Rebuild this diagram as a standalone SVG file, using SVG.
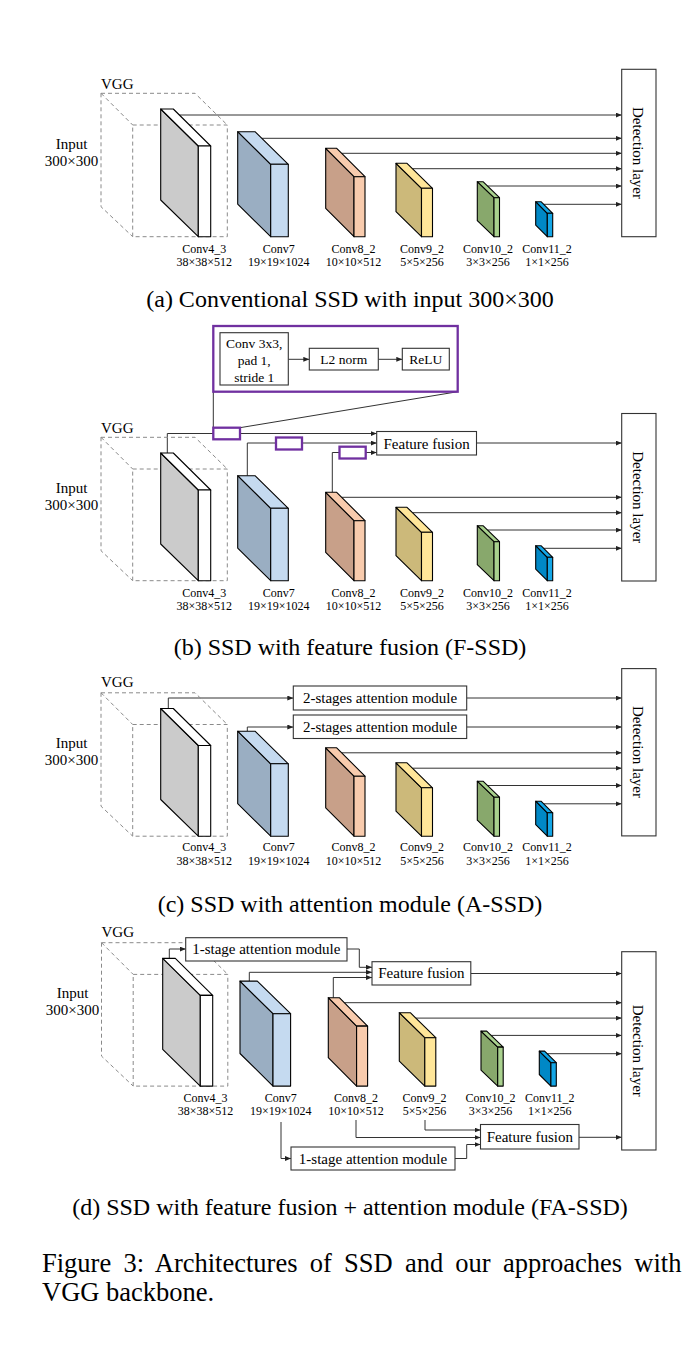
<svg xmlns="http://www.w3.org/2000/svg" width="696" height="1348" viewBox="0 0 696 1348">
<style>
.t{font-family:"Liberation Serif","Times New Roman",serif;fill:#000}
.lbl{font-size:12px;text-anchor:middle}
.inp{font-size:15px;text-anchor:middle}
.vgg{font-size:15px}
.bt{font-size:15px;text-anchor:middle}
.it{font-size:13.5px;text-anchor:middle}
.cap{font-size:24px;text-anchor:middle}
.fig{font-size:26.5px}
.dash{fill:none;stroke:#8a8a8a;stroke-width:1;stroke-dasharray:4 3}
.blk polygon{stroke:#000;stroke-width:1.1;stroke-linejoin:round}
.conn path{fill:none;stroke:#333;stroke-width:1}
.arr{marker-end:url(#ah)}
.box{fill:#fff;stroke:#333;stroke-width:1.1}
.pbox{fill:#fff;stroke:#7030a0;stroke-width:2.3}
.pframe{fill:none;stroke:#7030a0;stroke-width:2.3}
.pline{fill:none;stroke:#7030a0;stroke-width:1.4}
</style>
<defs>
<marker id="ah" viewBox="0 0 6 5" refX="6" refY="2.5" markerWidth="6" markerHeight="5" markerUnits="userSpaceOnUse" orient="auto"><path d="M0,0 L6,2.5 L0,5 z" fill="#222"/></marker>
<g id="cube" class="dash"><rect x="132.7" y="125" width="94.6" height="111.7"/><path d="M101,93.3 H195 L227.3,125 M101,93.3 V206.7 L132.7,236.7 M101,93.3 L132.7,125"/></g>
<g id="b1" class="blk"><polygon points="160.7,109 198.3,146 198.3,236.7 160.7,200" fill="#cbcbcb"/><polygon points="160.7,109 173.3,109 210.7,146 198.3,146" fill="#fff"/><polygon points="198.3,146 210.7,146 210.7,236.7 198.3,236.7" fill="#fff"/></g>
<g id="b2" class="blk"><polygon points="237.7,131.7 270.7,164.3 270.7,236.7 237.7,204.1" fill="#9aaec2"/><polygon points="237.7,131.7 255,131.7 288.3,164.3 270.7,164.3" fill="#c5daf0"/><polygon points="270.7,164.3 288.3,164.3 288.3,236.7 270.7,236.7" fill="#c5daf0"/></g>
<g id="b3" class="blk"><polygon points="325.7,148.3 354,176.7 354,236.7 325.7,208.3" fill="#c8a089"/><polygon points="325.7,148.3 336.7,148.3 365,176.7 354,176.7" fill="#f8cbad"/><polygon points="354,176.7 365,176.7 365,236.7 354,236.7" fill="#f8cbad"/></g>
<g id="b4" class="blk"><polygon points="396,163.3 421.5,188.3 421.5,236.7 396,211.7" fill="#ccb97a"/><polygon points="396,163.3 407,163.3 432.5,188.3 421.5,188.3" fill="#ffe699"/><polygon points="421.5,188.3 432.5,188.3 432.5,236.7 421.5,236.7" fill="#ffe699"/></g>
<g id="b5" class="blk"><polygon points="477.3,181.7 494,197.7 494,236.7 477.3,220.7" fill="#88a86c"/><polygon points="477.3,181.7 483,181.7 499.5,197.7 494,197.7" fill="#a9d18e"/><polygon points="494,197.7 499.5,197.7 499.5,236.7 494,236.7" fill="#a9d18e"/></g>
<g id="b6" class="blk"><polygon points="535.7,201.7 547.3,213.3 547.3,236.7 535.7,225.1" fill="#0088c6"/><polygon points="535.7,201.7 541,201.7 552.7,213.3 547.3,213.3" fill="#14a6e6"/><polygon points="547.3,213.3 552.7,213.3 552.7,236.7 547.3,236.7" fill="#14a6e6"/></g>
</defs>
<rect width="696" height="1348" fill="#fff"/>

<g id="connectors" class="conn">
<!-- (a) -->
<path class="arr" d="M179.4,115 H621.7"/>
<path class="arr" d="M261.7,138.3 H621.7"/>
<path class="arr" d="M341.7,153.3 H621.7"/>
<path class="arr" d="M412.5,168.7 H621.7"/>
<path class="arr" d="M487.4,186 H621.7"/>
<path class="arr" d="M543.6,204.3 H621.7"/>
<!-- (b) -->
<path class="arr" d="M167.3,453 V433.5 H376.7"/>
<path class="arr" d="M247.3,475.7 V443 H376.7"/>
<path class="arr" d="M332.3,492.3 V452.5 H376.7"/>
<path class="arr" d="M476.5,443 H621.7"/>
<path class="arr" d="M341.7,497.3 H621.7"/>
<path class="arr" d="M412.5,512.7 H621.7"/>
<path class="arr" d="M487.4,530 H621.7"/>
<path class="arr" d="M543.6,548.3 H621.7"/>
<path class="arr" d="M288.3,359.3 H309.3"/>
<path class="arr" d="M378.3,359.3 H402.3"/>
<path class="pline" d="M213.3,391.7 V427.7 M457.7,391.7 L240,427.7"/>
<!-- (c) -->
<path class="arr" d="M168.3,708.5 V698 H293.3"/>
<path class="arr" d="M247.3,731.2 V727 H293.3"/>
<path class="arr" d="M466.7,698 H621.7"/>
<path class="arr" d="M466.7,727 H621.7"/>
<path class="arr" d="M341.7,752.8 H621.7"/>
<path class="arr" d="M412.5,768.2 H621.7"/>
<path class="arr" d="M487.4,785.5 H621.7"/>
<path class="arr" d="M543.6,803.8 H621.7"/>
<!-- (d) -->
<path class="arr" d="M169.3,958.4 V949 H185.7"/>
<path class="arr" d="M347,949 H359.3 V967.3 H372"/>
<path class="arr" d="M249.3,981.1 V972.3 H372"/>
<path class="arr" d="M333.3,997.7 V977.5 H372"/>
<path class="arr" d="M470.8,973.5 H621.7"/>
<path class="arr" d="M344.3,1002.7 H621.7"/>
<path class="arr" d="M415.8,1018.1 H621.7"/>
<path class="arr" d="M491.1,1035.4 H621.7"/>
<path class="arr" d="M547.2,1053.7 H621.7"/>
<path class="arr" d="M579,1137.3 H621.7"/>
<path class="arr" d="M425,1120 V1130 H480.5"/>
<path class="arr" d="M356,1120 V1137.5 H480.5"/>
<path class="arr" d="M455,1158.5 H466.7 V1144.5 H480.5"/>
<path class="arr" d="M281,1122 V1158.5 H291"/>
</g>

<!-- ===== Panel (a) ===== -->
<g id="a-vgg"><use href="#cube"/><text class="t vgg" x="101" y="89">VGG</text></g>
<g id="a-input"><text class="t inp" x="71.5" y="149.3">Input</text><text class="t inp" x="71.5" y="166">300×300</text></g>
<g id="a-conv4_3"><use href="#b1"/><text class="t lbl" x="204.3" y="252.7">Conv4_3</text><text class="t lbl" x="204.3" y="266">38×38×512</text></g>
<g id="a-conv7"><use href="#b2"/><text class="t lbl" x="278.8" y="252.7">Conv7</text><text class="t lbl" x="278.8" y="266">19×19×1024</text></g>
<g id="a-conv8_2"><use href="#b3"/><text class="t lbl" x="353.5" y="252.7">Conv8_2</text><text class="t lbl" x="353.5" y="266">10×10×512</text></g>
<g id="a-conv9_2"><use href="#b4"/><text class="t lbl" x="422" y="252.7">Conv9_2</text><text class="t lbl" x="422" y="266">5×5×256</text></g>
<g id="a-conv10_2"><use href="#b5"/><text class="t lbl" x="488" y="252.7">Conv10_2</text><text class="t lbl" x="488" y="266">3×3×256</text></g>
<g id="a-conv11_2"><use href="#b6"/><text class="t lbl" x="547" y="252.7">Conv11_2</text><text class="t lbl" x="547" y="266">1×1×256</text></g>
<g id="a-detection"><rect class="box" x="621.7" y="69.3" width="34.3" height="167.4"/><text class="t bt" transform="translate(633,153) rotate(90)">Detection layer</text></g>
<text class="t cap" x="350" y="307">(a) Conventional SSD with input 300×300</text>

<!-- ===== Panel (b) ===== -->
<g id="b-zoom"><rect class="pframe" x="213.3" y="326" width="244.4" height="65.7"/></g>
<g id="b-conv3x3"><rect class="box" x="220" y="332.7" width="68.3" height="52.3"/><text class="t it" x="254.2" y="347.8">Conv 3x3,</text><text class="t it" x="254.2" y="364.8">pad 1,</text><text class="t it" x="254.2" y="381.5">stride 1</text></g>
<g id="b-l2norm"><rect class="box" x="309.3" y="348.3" width="69" height="21.7"/><text class="t it" x="343.8" y="364">L2 norm</text></g>
<g id="b-relu"><rect class="box" x="402.3" y="348.3" width="47" height="21.7"/><text class="t it" x="425.8" y="364">ReLU</text></g>
<g id="b-vgg"><use href="#cube" transform="translate(0,344)"/><text class="t vgg" x="101" y="433">VGG</text></g>
<g id="b-input"><text class="t inp" x="71.5" y="493.3">Input</text><text class="t inp" x="71.5" y="510">300×300</text></g>
<g id="b-conv4_3"><use href="#b1" transform="translate(0,344)"/><text class="t lbl" x="204.3" y="596.7">Conv4_3</text><text class="t lbl" x="204.3" y="610">38×38×512</text></g>
<g id="b-conv7"><use href="#b2" transform="translate(0,344)"/><text class="t lbl" x="278.8" y="596.7">Conv7</text><text class="t lbl" x="278.8" y="610">19×19×1024</text></g>
<g id="b-conv8_2"><use href="#b3" transform="translate(0,344)"/><text class="t lbl" x="353.5" y="596.7">Conv8_2</text><text class="t lbl" x="353.5" y="610">10×10×512</text></g>
<g id="b-conv9_2"><use href="#b4" transform="translate(0,344)"/><text class="t lbl" x="422" y="596.7">Conv9_2</text><text class="t lbl" x="422" y="610">5×5×256</text></g>
<g id="b-conv10_2"><use href="#b5" transform="translate(0,344)"/><text class="t lbl" x="488" y="596.7">Conv10_2</text><text class="t lbl" x="488" y="610">3×3×256</text></g>
<g id="b-conv11_2"><use href="#b6" transform="translate(0,344)"/><text class="t lbl" x="547" y="596.7">Conv11_2</text><text class="t lbl" x="547" y="610">1×1×256</text></g>
<g id="b-p1"><rect class="pbox" x="213.3" y="427.7" width="26.7" height="11.6"/></g>
<g id="b-p2"><rect class="pbox" x="276" y="437.5" width="26" height="12"/></g>
<g id="b-p3"><rect class="pbox" x="339.5" y="446.7" width="26.2" height="11.8"/></g>
<g id="b-fusion"><rect class="box" x="376.7" y="431.5" width="99.8" height="23.5"/><text class="t bt" x="426.6" y="448.5">Feature fusion</text></g>
<g id="b-detection"><rect class="box" x="621.7" y="413.5" width="34.3" height="167.5"/><text class="t bt" transform="translate(633,497.3) rotate(90)">Detection layer</text></g>
<text class="t cap" x="350" y="655">(b) SSD with feature fusion (F-SSD)</text>

<!-- ===== Panel (c) ===== -->
<g id="c-vgg"><use href="#cube" transform="translate(0,599.5)"/><text class="t vgg" x="101" y="687">VGG</text></g>
<g id="c-input"><text class="t inp" x="71.5" y="748">Input</text><text class="t inp" x="71.5" y="765">300×300</text></g>
<g id="c-conv4_3"><use href="#b1" transform="translate(0,599.5)"/><text class="t lbl" x="204.3" y="851">Conv4_3</text><text class="t lbl" x="204.3" y="864.5">38×38×512</text></g>
<g id="c-conv7"><use href="#b2" transform="translate(0,599.5)"/><text class="t lbl" x="278.8" y="851">Conv7</text><text class="t lbl" x="278.8" y="864.5">19×19×1024</text></g>
<g id="c-conv8_2"><use href="#b3" transform="translate(0,599.5)"/><text class="t lbl" x="353.5" y="851">Conv8_2</text><text class="t lbl" x="353.5" y="864.5">10×10×512</text></g>
<g id="c-conv9_2"><use href="#b4" transform="translate(0,599.5)"/><text class="t lbl" x="422" y="851">Conv9_2</text><text class="t lbl" x="422" y="864.5">5×5×256</text></g>
<g id="c-conv10_2"><use href="#b5" transform="translate(0,599.5)"/><text class="t lbl" x="488" y="851">Conv10_2</text><text class="t lbl" x="488" y="864.5">3×3×256</text></g>
<g id="c-conv11_2"><use href="#b6" transform="translate(0,599.5)"/><text class="t lbl" x="547" y="851">Conv11_2</text><text class="t lbl" x="547" y="864.5">1×1×256</text></g>
<g id="c-att1"><rect class="box" x="293.3" y="686" width="173.4" height="24"/><text class="t bt" x="380" y="703">2-stages attention module</text></g>
<g id="c-att2"><rect class="box" x="293.3" y="715" width="173.4" height="23.5"/><text class="t bt" x="380" y="731.8">2-stages attention module</text></g>
<g id="c-detection"><rect class="box" x="621.7" y="668.6" width="34.3" height="167.3"/><text class="t bt" transform="translate(633,752) rotate(90)">Detection layer</text></g>
<text class="t cap" x="350" y="912">(c) SSD with attention module (A-SSD)</text>

<!-- ===== Panel (d) ===== -->
<g id="d-vgg"><use href="#cube" transform="translate(0.5,849.4)"/><text class="t vgg" x="101.5" y="936.5">VGG</text></g>
<g id="d-input"><text class="t inp" x="72.5" y="998">Input</text><text class="t inp" x="72.5" y="1014.5">300×300</text></g>
<g id="d-conv4_3"><use href="#b1" transform="translate(2,849.4)"/><text class="t lbl" x="205.5" y="1101.5">Conv4_3</text><text class="t lbl" x="205.5" y="1114.5">38×38×512</text></g>
<g id="d-conv7"><use href="#b2" transform="translate(2.3,849.4)"/><text class="t lbl" x="280.8" y="1101.5">Conv7</text><text class="t lbl" x="280.8" y="1114.5">19×19×1024</text></g>
<g id="d-conv8_2"><use href="#b3" transform="translate(2.6,849.4)"/><text class="t lbl" x="356" y="1101.5">Conv8_2</text><text class="t lbl" x="356" y="1114.5">10×10×512</text></g>
<g id="d-conv9_2"><use href="#b4" transform="translate(3.3,849.4)"/><text class="t lbl" x="424.5" y="1101.5">Conv9_2</text><text class="t lbl" x="424.5" y="1114.5">5×5×256</text></g>
<g id="d-conv10_2"><use href="#b5" transform="translate(3.7,849.4)"/><text class="t lbl" x="490.5" y="1101.5">Conv10_2</text><text class="t lbl" x="490.5" y="1114.5">3×3×256</text></g>
<g id="d-conv11_2"><use href="#b6" transform="translate(3.6,849.4)"/><text class="t lbl" x="549.8" y="1101.5">Conv11_2</text><text class="t lbl" x="549.8" y="1114.5">1×1×256</text></g>
<g id="d-att1"><rect class="box" x="185.7" y="937.7" width="161.3" height="23.3"/><text class="t bt" x="266.3" y="954.3">1-stage attention module</text></g>
<g id="d-fusion1"><rect class="box" x="372" y="961.7" width="98.8" height="23.3"/><text class="t bt" x="421.4" y="978.3">Feature fusion</text></g>
<g id="d-att2"><rect class="box" x="291" y="1147" width="164" height="23"/><text class="t bt" x="373" y="1163.5">1-stage attention module</text></g>
<g id="d-fusion2"><rect class="box" x="480.5" y="1124.5" width="98.5" height="24.5"/><text class="t bt" x="529.8" y="1141.8">Feature fusion</text></g>
<g id="d-detection"><rect class="box" x="621.7" y="951.7" width="34.3" height="198.3"/><text class="t bt" transform="translate(633,1050.8) rotate(90)">Detection layer</text></g>
<text class="t cap" x="350" y="1215">(d) SSD with feature fusion + attention module (FA-SSD)</text>

<text class="t fig" x="42" y="1272" style="word-spacing:5.6px">Figure 3: Architectures of SSD and our approaches with</text>
<text class="t fig" x="42" y="1301">VGG backbone.</text>
</svg>
